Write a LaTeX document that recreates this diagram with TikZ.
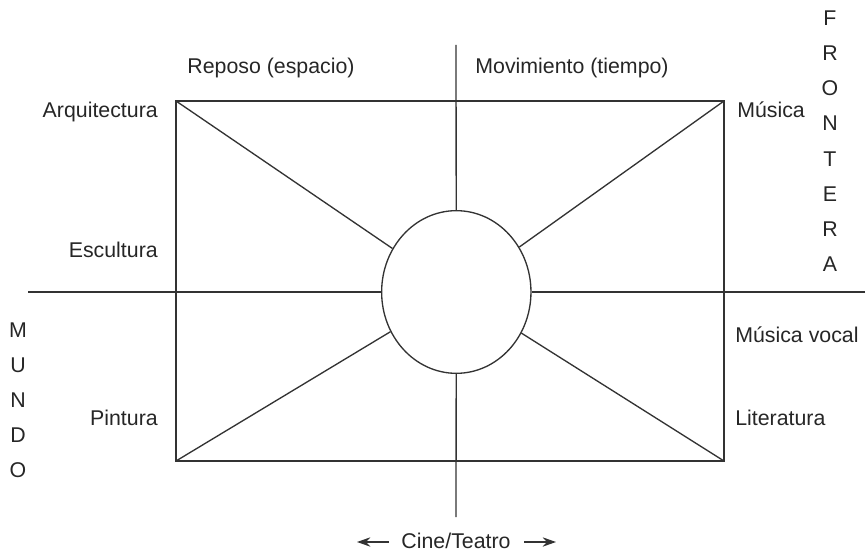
\documentclass[tikz,border=0pt]{standalone}
\usepackage{fontspec}
\setmainfont{Liberation Sans}
\usetikzlibrary{shapes.geometric,arrows.meta}
\begin{document}
\begin{tikzpicture}[x=0.75pt,y=-0.75pt,
  ln/.style={draw=black!80,line width=1pt},
  lbl/.style={inner sep=0pt,font=\fontsize{16}{19}\selectfont,text=black!85},
  letter/.style={lbl,anchor=center},
  arr/.style={ln,line width=1.2pt,-{Stealth[length=10pt,width=7pt]}}]
\useasboundingbox (0,0) rectangle (866,555);
% frame corners
\coordinate (TL) at (176,101);
\coordinate (TR) at (724,101);
\coordinate (BL) at (176,461);
\coordinate (BR) at (724,461);
\coordinate (L) at (28,292);
\coordinate (R) at (865,292);
\coordinate (T) at (456,45);
\coordinate (B) at (456,517);
\node[ellipse,ln,minimum width=112pt,minimum height=122pt,inner sep=0pt] (e) at (456.3,292) {};
\draw[ln] (TL) rectangle (BR);
\draw[ln] (TL) -- (e);
\draw[ln] (TR) -- (e);
\draw[ln] (BL) -- (e);
\draw[ln] (BR) -- (e);
\draw[ln] (L) -- (e);
\draw[ln] (R) -- (e);
\draw[ln] (T) -- (e);
\draw[ln] (B) -- (e);
% labels
\node[lbl] (rep) at (271,68) {Reposo (espacio)};
\node[lbl] (mov) at (572,68) {Movimiento (tiempo)};
\node[lbl,anchor=east] (arq) at (158,112) {Arquitectura};
\node[lbl,anchor=west] (mus) at (737,110) {Música};
\node[lbl,anchor=east] (esc) at (158,250) {Escultura};
\node[lbl,anchor=west] (mv) at (735,335) {Música vocal};
\node[lbl,anchor=east] (pin) at (158,418) {Pintura};
\node[lbl,anchor=west] (lit) at (735,418) {Literatura};
% FRONTERA
\foreach \c [count=\i] in {F,R,O,N,T,E,R,A}
  \node[letter] (f\i) at (830,{18+35.2*(\i-1)}) {\c};
% MUNDO
\foreach \c [count=\i] in {M,U,N,D,O}
  \node[letter] (m\i) at (18,{330+35*(\i-1)}) {\c};
% Cine/Teatro
\node[lbl] (cine) at (456,541) {Cine/Teatro};
\coordinate (a1s) at (389,542);
\coordinate (a1e) at (357,542);
\coordinate (a2s) at (524,542);
\coordinate (a2e) at (556,542);
\draw[arr] (a1s) -- (a1e);
\draw[arr] (a2s) -- (a2e);
\end{tikzpicture}
\end{document}
